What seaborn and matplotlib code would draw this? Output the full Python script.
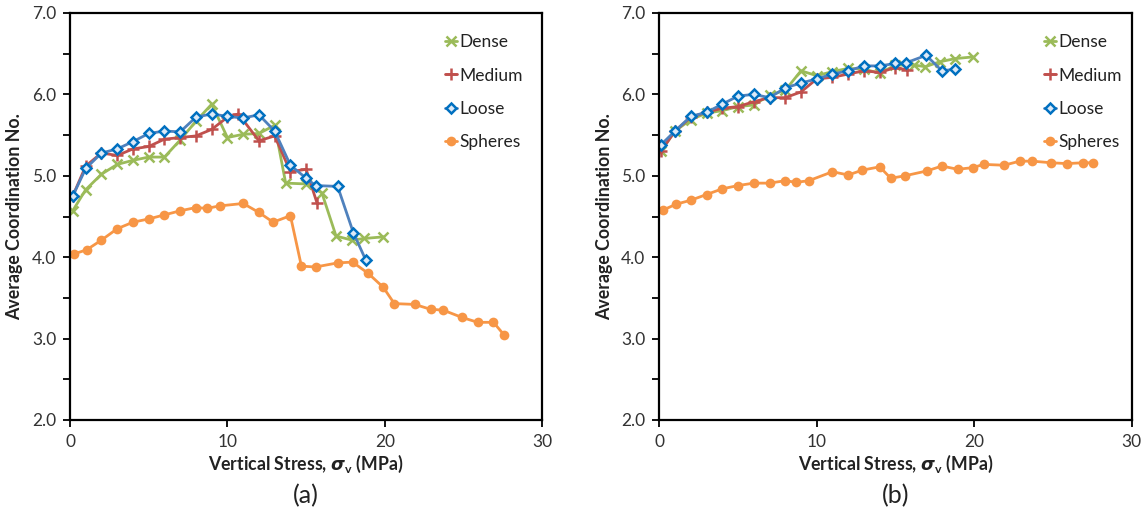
import matplotlib
matplotlib.use("Agg")
import matplotlib.pyplot as plt
from matplotlib.ticker import MultipleLocator, FormatStrFormatter
import pandas as pd
import seaborn as sns

# (a) values
dense_x_a = [0.17, 1, 2, 3, 4, 5, 6, 7, 8, 9, 10, 11, 12, 13, 13.7, 15, 16, 16.9, 17.9, 18.7, 19.9]
dense_y_a = [4.57, 4.83, 5.02, 5.14, 5.19, 5.23, 5.23, 5.44, 5.67, 5.88, 5.47, 5.51, 5.52, 5.62,
             4.91, 4.90, 4.79, 4.26, 4.21, 4.23, 4.25]
medium_x_a = [0.17, 1, 2, 3, 4, 5, 6, 7, 8, 9, 10, 10.7, 12, 13, 14, 15, 15.7]
medium_y_a = [4.75, 5.12, 5.28, 5.25, 5.33, 5.36, 5.45, 5.47, 5.49, 5.57, 5.72, 5.76, 5.43, 5.49,
              5.05, 5.08, 4.66]
loose_x_a = [0.17, 1, 2, 3, 4, 5, 6, 7, 8, 9, 10, 11, 12, 13, 14, 15, 15.6, 17, 18, 18.8]
loose_y_a = [4.75, 5.09, 5.28, 5.33, 5.42, 5.52, 5.55, 5.54, 5.72, 5.76, 5.73, 5.71, 5.75, 5.55,
             5.13, 4.97, 4.88, 4.87, 4.30, 3.96]
spheres_x = [0.25, 1.05, 2, 3, 4, 5, 6, 7, 8, 8.7, 9.5, 11, 12, 12.9, 14, 14.7, 15.6, 17, 17.95,
             18.95, 19.9, 20.6, 21.9, 22.9, 23.7, 24.9, 25.9, 26.9, 27.55]
spheres_y_a = [4.04, 4.09, 4.21, 4.35, 4.43, 4.47, 4.52, 4.57, 4.61, 4.60, 4.63, 4.66, 4.55, 4.43,
               4.51, 3.89, 3.88, 3.93, 3.94, 3.80, 3.63, 3.43, 3.42, 3.36, 3.35, 3.26, 3.20, 3.20, 3.05]

# (b)
dense_x_b = [0.1, 1, 2, 3, 4, 5, 6, 7, 8, 9, 10, 11, 12, 13, 14, 15, 16.2, 16.9, 17.8, 18.8, 19.9]
dense_y_b = [5.30, 5.55, 5.69, 5.77, 5.80, 5.85, 5.87, 5.99, 6.05, 6.29, 6.23, 6.28, 6.32, 6.31,
             6.26, 6.36, 6.36, 6.34, 6.40, 6.44, 6.46]
medium_x_b = [0.1, 1, 2, 3, 4, 5, 6, 7, 8, 9, 10, 11, 12, 13, 14, 15, 15.75]
medium_y_b = [5.30, 5.55, 5.72, 5.78, 5.83, 5.85, 5.91, 5.96, 5.96, 6.03, 6.19, 6.21, 6.25, 6.29,
              6.27, 6.33, 6.30]
loose_x_b = [0.1, 1, 2, 3, 4, 5, 6, 7, 8, 9, 10, 11, 12, 13, 14, 15, 15.7, 16.95, 17.95, 18.8]
loose_y_b = [5.38, 5.55, 5.73, 5.78, 5.88, 5.98, 6.00, 5.96, 6.08, 6.14, 6.19, 6.25, 6.29, 6.35,
             6.35, 6.38, 6.39, 6.48, 6.29, 6.31]
spheres_y_b = [4.58, 4.65, 4.70, 4.77, 4.84, 4.88, 4.91, 4.91, 4.94, 4.92, 4.94, 5.05, 5.01, 5.07,
               5.11, 4.97, 5.00, 5.06, 5.12, 5.08, 5.10, 5.14, 5.13, 5.18, 5.18, 5.16, 5.15, 5.16, 5.16]

panels = [
    ("(a)", [("Dense", dense_x_a, dense_y_a), ("Medium", medium_x_a, medium_y_a),
             ("Loose", loose_x_a, loose_y_a), ("Spheres", spheres_x, spheres_y_a)]),
    ("(b)", [("Dense", dense_x_b, dense_y_b), ("Medium", medium_x_b, medium_y_b),
             ("Loose", loose_x_b, loose_y_b), ("Spheres", spheres_x, spheres_y_b)]),
]

styles = {
    "Dense": dict(color="#9BBB59", marker="x", markersize=7, markeredgewidth=1.8,
                  markeredgecolor="#9BBB59"),
    "Medium": dict(color="#C0504D", marker="+", markersize=9, markeredgewidth=1.8,
                   markeredgecolor="#C0504D"),
    "Loose": dict(color="#4F81BD", marker="D", markersize=5.5, markeredgewidth=1.8,
                  markeredgecolor="#0070C0", markerfacecolor="#DCE9F7"),
    "Spheres": dict(color="#F79646", marker="o", markersize=7, markeredgewidth=0,
                    markerfacecolor="#F79646"),
}

sns.set_style("white")
plt.rcParams["font.family"] = ["Lato", "DejaVu Sans"]
plt.rcParams["mathtext.fontset"] = "custom"
plt.rcParams["mathtext.it"] = "DejaVu Sans:italic:bold"
plt.rcParams["mathtext.rm"] = "Lato:bold"

fig = plt.figure(figsize=(11.47, 5.15), dpi=100)
lefts = [70 / 1147, 659.3 / 1147]
w = 472.3 / 1147
bottom = 1 - 420 / 515
h = 407 / 515
leg_x = [0.78, 0.80]

for i, (tag, series) in enumerate(panels):
    ax = fig.add_axes([lefts[i], bottom, w, h])
    for name, xs, ys in series:
        df = pd.DataFrame({"x": xs, "y": ys})
        sns.lineplot(data=df, x="x", y="y", ax=ax, sort=False, estimator=None,
                     linewidth=2, label=name, **styles[name])
    ax.set_xlim(0, 30)
    ax.set_ylim(2, 7)
    ax.xaxis.set_major_locator(MultipleLocator(10))
    ax.yaxis.set_major_locator(MultipleLocator(1))
    ax.yaxis.set_minor_locator(MultipleLocator(0.5))
    ax.yaxis.set_major_formatter(FormatStrFormatter("%.1f"))
    ax.tick_params(which="both", direction="out", length=5, width=1.3, color="black",
                   labelsize=12.5, labelcolor="#333333", left=True, bottom=True, pad=5)
    for s in ax.spines.values():
        s.set_color("black")
        s.set_linewidth(1.6)
    ax.set_xlabel(r"Vertical Stress, $\sigma_\mathrm{v}$ (MPa)", fontsize=12.8,
                  fontweight="bold", labelpad=2, color="#222222")
    ax.set_ylabel("Average Coordination No.", fontsize=12.8, fontweight="bold",
                  labelpad=6, color="#222222")
    leg = ax.legend(loc="upper left", bbox_to_anchor=(leg_x[i], 0.965), frameon=False,
                    fontsize=12.5, handlelength=0.7, handletextpad=0.1, labelspacing=1.0,
                    borderaxespad=0)
    for t in leg.get_texts():
        t.set_color("#222222")
    ax.text(0.5, -0.185, tag, transform=ax.transAxes, ha="center", va="center",
            fontsize=18, color="#222222")

fig.savefig("out.png", dpi=100)
